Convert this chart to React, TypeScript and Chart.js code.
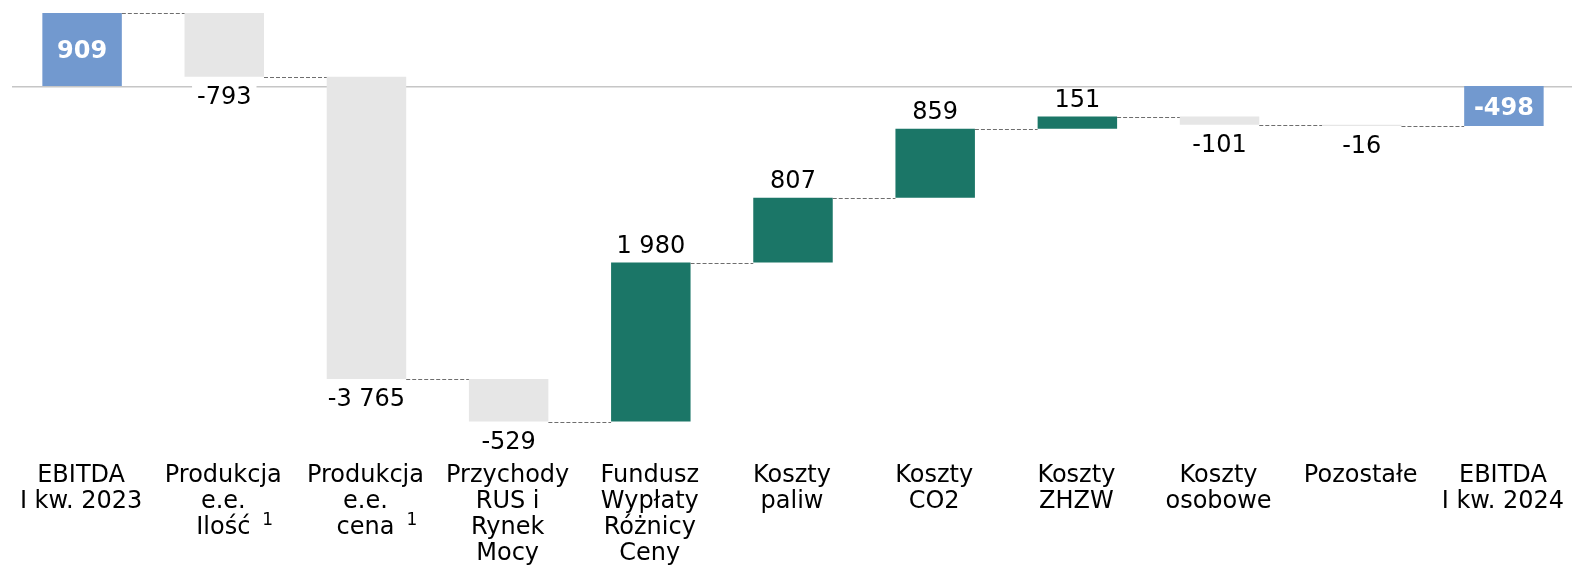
import React, { useEffect, useRef } from "react";
import { Chart, registerables } from "chart.js";

Chart.register(...registerables);

// ---- data ----
const categories: string[][] = [
  ["EBITDA", "I kw. 2023"],
  ["Produkcja", "e.e.", "Ilość^1"],
  ["Produkcja", "e.e.", "cena^1"],
  ["Przychody", "RUS i", "Rynek", "Mocy"],
  ["Fundusz", "Wypłaty", "Różnicy", "Ceny"],
  ["Koszty", "paliw"],
  ["Koszty", "CO2"],
  ["Koszty", "ZHZW"],
  ["Koszty", "osobowe"],
  ["Pozostałe"],
  ["EBITDA", "I kw. 2024"],
];
const values: number[] = [909, -793, -3765, -529, 1980, 807, 859, 151, -101, -16, -498];
const isTotal: boolean[] = [true, false, false, false, false, false, false, false, false, false, true];

// ---- styling ----
const BLUE = "#7299CF";
const GREY = "#E6E6E6";
const GREEN = "#1B7667";
const FONT = '"DejaVu Sans", Verdana, sans-serif';
const Y_MAX = 909;
const Y_MIN = -4595;
const CANVAS_W = 1580;
const CANVAS_H = 565;

function fmt(v: number): string {
  const s = Math.abs(v).toString().replace(/\B(?=(\d{3})+(?!\d))/g, " ");
  return (v < 0 ? "-" : "") + s;
}

function buildRanges() {
  const ranges: [number, number][] = [];
  const levels: number[] = [];
  let running = 0;
  values.forEach((v, i) => {
    if (isTotal[i]) {
      ranges.push([0, v]);
      running = v;
    } else {
      const start = running;
      const end = running + v;
      ranges.push([start, end]);
      running = end;
    }
    levels.push(running);
  });
  return { ranges, levels };
}

export default function App() {
  const ref = useRef<HTMLCanvasElement | null>(null);

  useEffect(() => {
    if (!ref.current) return;
    const { ranges, levels } = buildRanges();
    const colors = values.map((v, i) => (isTotal[i] ? BLUE : v < 0 ? GREY : GREEN));

    const waterfallPlugin = {
      id: "waterfallDecor",
      beforeDatasetsDraw(chart: any) {
        const { ctx, chartArea, scales } = chart;
        const y0 = scales.y.getPixelForValue(0);
        ctx.save();
        ctx.strokeStyle = "#C6C6C6";
        ctx.lineWidth = 1.6;
        ctx.beginPath();
        ctx.moveTo(chartArea.left + 1, y0 + 0.8);
        ctx.lineTo(1572, y0 + 0.8);
        ctx.stroke();
        ctx.restore();
      },
      afterDatasetsDraw(chart: any) {
        const { ctx, chartArea, scales } = chart;
        const meta = chart.getDatasetMeta(0);
        const bars = meta.data;
        ctx.save();
        // connectors
        ctx.strokeStyle = "#6E6E6E";
        ctx.lineWidth = 1;
        ctx.setLineDash([4, 2]);
        for (let i = 0; i < bars.length - 1; i++) {
          const a = bars[i];
          const b = bars[i + 1];
          const y = Math.round(scales.y.getPixelForValue(levels[i])) + 0.5;
          ctx.beginPath();
          ctx.moveTo(a.x + a.width / 2, y);
          ctx.lineTo(b.x - b.width / 2, y);
          ctx.stroke();
        }
        ctx.setLineDash([]);

        // value labels
        ctx.textAlign = "center";
        ctx.textBaseline = "alphabetic";
        values.forEach((v, i) => {
          const bar = bars[i];
          const [s, e] = ranges[i];
          const text = fmt(v);
          if (isTotal[i]) {
            const mid = (scales.y.getPixelForValue(s) + scales.y.getPixelForValue(e)) / 2;
            ctx.font = `bold 24px ${FONT}`;
            ctx.fillStyle = "#FFFFFF";
            ctx.fillText(text, bar.x, mid + 8.8);
          } else {
            ctx.font = `24px ${FONT}`;
            const pe = scales.y.getPixelForValue(e);
            const base = v > 0 ? pe - 9.5 : pe + 27;
            const w = ctx.measureText(text).width;
            ctx.fillStyle = "#FFFFFF";
            ctx.fillRect(bar.x - w / 2 - 5, base - 18.5, w + 10, 24);
            ctx.fillStyle = "#000000";
            ctx.fillText(text, bar.x, base);
          }
        });

        // category labels
        const top = chartArea.bottom + 27;
        categories.forEach((lines, i) => {
          const x = bars[i].x - 1;
          lines.forEach((line, j) => {
            const y = top + j * 26;
            const parts = line.split("^");
            ctx.font = `24px ${FONT}`;
            ctx.fillStyle = "#000000";
            ctx.textAlign = "center";
            ctx.fillText(parts[0], x, y);
            if (parts[1]) {
              const w = ctx.measureText(parts[0]).width;
              ctx.font = `17px ${FONT}`;
              ctx.textAlign = "left";
              ctx.fillText(parts[1], x + w / 2 + 12, y - 9);
            }
          });
        });
        ctx.restore();
      },
    };

    const chart = new Chart(ref.current, {
      type: "bar",
      data: {
        labels: categories.map((c) => c.join(" ").replace("^", " ")),
        datasets: [
          {
            data: ranges as any,
            backgroundColor: colors,
            borderWidth: 0,
            barPercentage: 0.559,
            categoryPercentage: 1,
          },
        ],
      },
      options: {
        responsive: false,
        maintainAspectRatio: false,
        animation: false,
        devicePixelRatio: 1,
        layout: { padding: { left: 11, right: 5, top: 13, bottom: 110 } },
        plugins: { legend: { display: false }, tooltip: { enabled: false } },
        scales: {
          x: { display: false, offset: true, grid: { display: false } },
          y: { display: false, min: Y_MIN, max: Y_MAX, grid: { display: false } },
        },
      },
      plugins: [waterfallPlugin],
    });
    return () => chart.destroy();
  }, []);

  return (
    <div
      style={{
        position: "fixed",
        left: 0,
        top: 0,
        width: 1572,
        height: 565,
        overflow: "hidden",
        background: "#fff",
      }}
    >
      <canvas
        ref={ref}
        width={CANVAS_W}
        height={CANVAS_H}
        style={{ display: "block", width: CANVAS_W, height: CANVAS_H }}
      />
    </div>
  );
}
